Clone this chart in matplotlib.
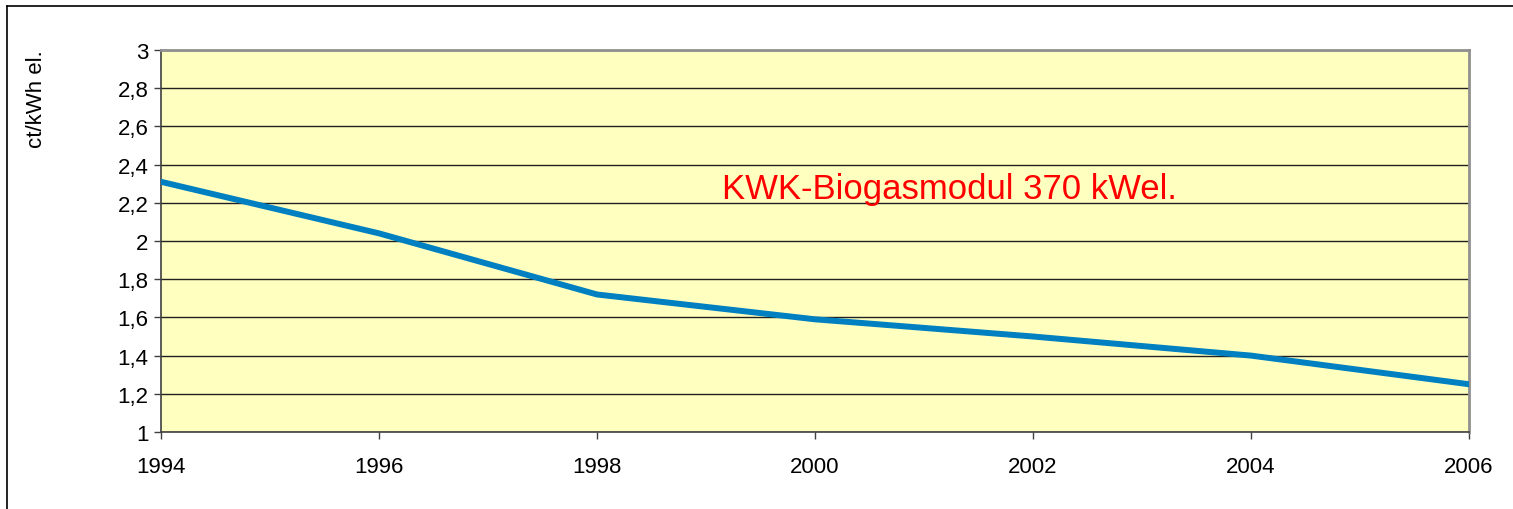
import matplotlib
matplotlib.use('Agg')
import matplotlib.pyplot as plt
from matplotlib.lines import Line2D

years = [1994, 1996, 1998, 2000, 2002, 2004, 2006]
costs = [2.31, 2.04, 1.72, 1.59, 1.50, 1.40, 1.25]
yticks = [1, 1.2, 1.4, 1.6, 1.8, 2, 2.2, 2.4, 2.6, 2.8, 3]
ytick_labels = ['1', '1,2', '1,4', '1,6', '1,8', '2', '2,2', '2,4', '2,6', '2,8', '3']
label = 'KWK-Biogasmodul 370 kWel.'

plt.rcParams['font.family'] = ['Liberation Sans', 'DejaVu Sans']

W, H = 1513, 510
fig = plt.figure(figsize=(W / 100, H / 100), dpi=100)
ax = fig.add_axes([161 / W, 1 - 433 / H, (1469 - 161) / W, (433 - 51) / H])
ax.set_facecolor('#FFFFC0')

ax.plot(years, costs, color='#0080C0', lw=4.3, solid_joinstyle='miter', zorder=3)

ax.set_xlim(1994, 2006)
ax.set_ylim(1, 3)
ax.set_xticks(years)
ax.set_xticklabels([str(y) for y in years])
ax.set_yticks(yticks)
ax.set_yticklabels(ytick_labels)
ax.grid(axis='y', color='#202020', lw=1.0, zorder=1)
ax.set_axisbelow(True)
ax.tick_params(labelsize=16, length=5, width=1, color='#404040', pad=4)
ax.tick_params(axis='x', pad=12)

for side in ['left', 'bottom']:
    ax.spines[side].set_color('#404040')
    ax.spines[side].set_linewidth(1.2)
for side in ['top', 'right']:
    ax.spines[side].set_color('#909090')
    ax.spines[side].set_linewidth(2)

ax.set_ylabel('ct/kWh el.', fontsize=16, labelpad=0)
ax.yaxis.set_label_coords((47 - 161) / (1469 - 161), 0.875)

ax.text(0.603, 0.638, label, transform=ax.transAxes, color='#FF0000',
        fontsize=25, ha='center', va='center')

# outer frame (top and left edge)
fig.add_artist(Line2D([7 / W, 7 / W], [0, 1 - 7 / H], transform=fig.transFigure, color='black', lw=1.2))
fig.add_artist(Line2D([7 / W, 1], [1 - 7 / H, 1 - 7 / H], transform=fig.transFigure, color='black', lw=1.2))

fig.savefig('out.png', dpi=100)
